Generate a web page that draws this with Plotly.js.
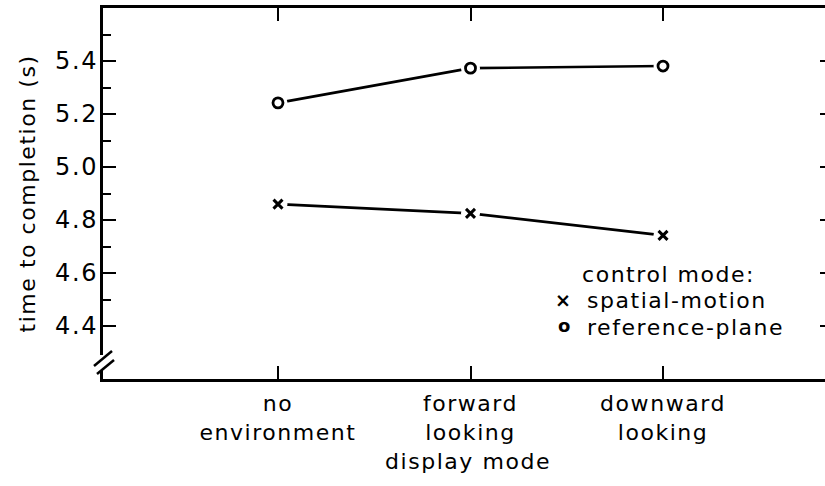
<!DOCTYPE html>
<html>
<head>
<meta charset="utf-8">
<script src="https://cdn.plot.ly/plotly-3.0.1.min.js"></script>
<style>
  html, body { margin: 0; padding: 0; background: #fff; overflow: hidden; }
  #chart { width: 840px; height: 486px; }
  svg text { letter-spacing: 0.07em; }
</style>
</head>
<body>
<div id="chart"></div>
<script>
// ---- data ----
const categories = ["no<br>environment", "forward<br>looking", "downward<br>looking"];
const spatialMotion = [4.86, 4.825, 4.742];
const referencePlane = [5.242, 5.373, 5.381];
const seriesNames = ["spatial-motion", "reference-plane"];
const seriesGlyphs = ["×", "o"];
const legendTitle = "control mode:";
const xTitle = "display mode";
const yTitle = "time to completion (s)";
const yMajorTicks = [4.4, 4.6, 4.8, 5.0, 5.2, 5.4];
const yMajorLabels = ["4.4", "4.6", "4.8", "5.0", "5.2", "5.4"];
const yMinorTicks = [4.5, 4.7, 4.9, 5.1, 5.3, 5.5];

const FONT = "DejaVu Sans, Liberation Sans, Arial, sans-serif";
const ink = "#000";

const traces = [];
[spatialMotion, referencePlane].forEach(function (vals) {
  traces.push({
    x: categories, y: vals, type: "scatter", mode: "lines",
    line: { color: ink, width: 2.6 }, showlegend: false, hoverinfo: "skip"
  });
});
// white masks open a small gap between the line and each marker
[spatialMotion, referencePlane].forEach(function (vals) {
  traces.push({
    x: categories, y: vals, type: "scatter", mode: "markers",
    marker: { symbol: "circle", size: 19, color: "#fff", line: { width: 0 } },
    showlegend: false, hoverinfo: "skip"
  });
});
traces.push({
  x: categories, y: spatialMotion, type: "scatter", mode: "markers",
  name: seriesNames[0], showlegend: false,
  marker: { symbol: "x-thin-open", size: 9, color: ink, line: { color: ink, width: 3 } }
});
traces.push({
  x: categories, y: referencePlane, type: "scatter", mode: "markers",
  name: seriesNames[1], showlegend: false,
  marker: { symbol: "circle-open", size: 10, color: ink, line: { color: ink, width: 2.8 } }
});

// plot area in pixels: left 103, right 833, top 8, bottom 379
const W = 840, H = 486;
const L = 103, R = 833, T = 8, B = 379;
const px = function (x) { return (x - L) / (R - L); };
const py = function (y) { return (B - y) / (B - T); };

const legendFont = { family: FONT, size: 22, color: ink };
const annotations = [
  { text: legendTitle, xref: "paper", yref: "paper", x: px(668), y: py(274), xanchor: "center", yanchor: "middle",
    showarrow: false, font: legendFont },
  { text: seriesGlyphs[0], xref: "paper", yref: "paper", x: px(563), y: py(300), xanchor: "center", yanchor: "middle",
    showarrow: false, font: { family: FONT, size: 19, color: ink, weight: "bold" } },
  { text: seriesNames[0], xref: "paper", yref: "paper", x: px(585), y: py(300), xanchor: "left", yanchor: "middle",
    showarrow: false, font: legendFont },
  { text: seriesGlyphs[1], xref: "paper", yref: "paper", x: px(565), y: py(325), xanchor: "center", yanchor: "middle",
    showarrow: false, font: { family: FONT, size: 18, color: ink, weight: "bold" } },
  { text: seriesNames[1], xref: "paper", yref: "paper", x: px(585), y: py(327), xanchor: "left", yanchor: "middle",
    showarrow: false, font: legendFont }
];

const layout = {
  width: W, height: H,
  margin: { l: L, r: W - R, t: T, b: H - B, pad: 0 },
  paper_bgcolor: "#fff", plot_bgcolor: "#fff",
  font: { family: FONT, color: ink, size: 22 },
  showlegend: false,
  xaxis: {
    type: "category",
    range: [-0.909, 2.883],
    showline: true, linecolor: ink, linewidth: 3, mirror: "ticks",
    ticks: "inside", ticklen: 13, tickwidth: 2, tickcolor: ink,
    showgrid: false, zeroline: false,
    tickfont: { family: FONT, size: 22, color: ink },
    ticklabelstandoff: 3,
    title: { text: xTitle, font: { family: FONT, size: 22, color: ink }, standoff: 10 }
  },
  yaxis: {
    range: [4.2, 5.6],
    showline: true, linecolor: ink, linewidth: 3, mirror: "ticks",
    tickmode: "array", tickvals: yMajorTicks, ticktext: yMajorLabels,
    ticks: "inside", ticklen: 13, tickwidth: 2.5, tickcolor: ink,
    minor: { tickmode: "array", tickvals: yMinorTicks, ticks: "inside", ticklen: 8, tickwidth: 2, tickcolor: ink, showgrid: false },
    showgrid: false, zeroline: false,
    tickfont: { family: FONT, size: 24, color: ink },
    ticklabelstandoff: -3,
    title: { text: yTitle, font: { family: FONT, size: 22, color: ink }, standoff: 14 }
  },
  annotations: annotations,
  shapes: [
    { type: "rect", layer: "above", xref: "paper", yref: "paper", xsizemode: "pixel", ysizemode: "pixel",
      xanchor: 0, yanchor: 0, x0: -3, x1: 3, y0: 9, y1: 24, fillcolor: "#fff", line: { width: 0 } },
    { type: "line", layer: "above", xref: "paper", yref: "paper", xsizemode: "pixel", ysizemode: "pixel",
      xanchor: 0, yanchor: 0, x0: -9, y0: 13, x1: 9, y1: 28, line: { color: ink, width: 2.5 } },
    { type: "line", layer: "above", xref: "paper", yref: "paper", xsizemode: "pixel", ysizemode: "pixel",
      xanchor: 0, yanchor: 0, x0: -6, y0: 5, x1: 11, y1: 19, line: { color: ink, width: 2.5 } }
  ]
};

Plotly.newPlot("chart", traces, layout, { staticPlot: true, displayModeBar: false });
</script>
</body>
</html>
